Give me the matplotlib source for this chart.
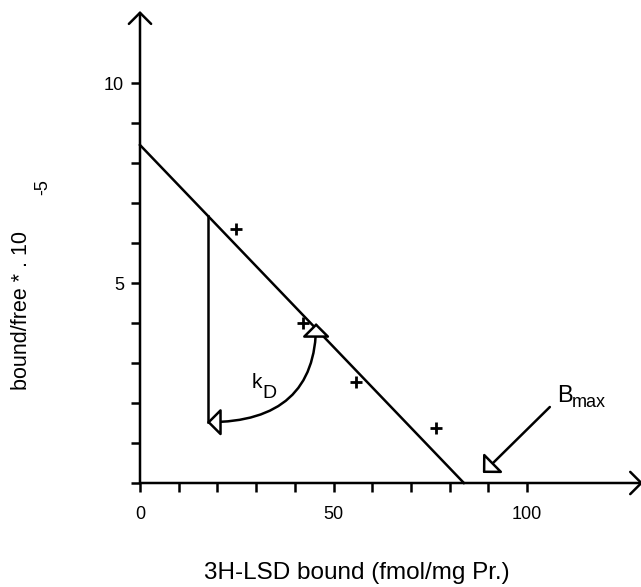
import matplotlib
matplotlib.use("Agg")
import matplotlib.pyplot as plt
from matplotlib.patches import ArrowStyle

plt.rcParams['font.family'] = ['Liberation Sans', 'DejaVu Sans']

# Scatchard data
bound = [24.9, 42.2, 55.7, 76.4]          # 3H-LSD bound (fmol/mg Pr.)
ratio = [6.35, 4.0, 2.53, 1.38]           # bound/free * 10^-5

# regression line and construction lines
fit_x = [0, 83.7]
fit_y = [8.45, 0]
drop_x = [17.6, 17.6]
drop_y = [6.67, 1.52]
kd_start = (45.5, 4.0)
kd_end = (17.3, 1.52)
bmax_tail = (105.9, 1.9)
bmax_tip = (88.6, 0.25)

x_major = [0, 50, 100]
x_minor = list(range(0, 101, 10))
y_major = [5, 10]
y_minor = list(range(0, 11))

W, H = 641, 587
fig = plt.figure(figsize=(W / 100, H / 100), dpi=100)
# axes: origin at pixel (140, 483); 3.87 px per x unit, 40 px per y unit
x_max, y_max = 129, 11.8
ax = fig.add_axes([140 / W, (H - 483) / H, x_max * 3.87 / W, y_max * 40 / H])
ax.set_xlim(0, x_max)
ax.set_ylim(0, y_max)
for s in ax.spines.values():
    s.set_visible(False)

lw = 1.8
# axes with open arrow heads
axis_style = ArrowStyle('->', head_length=8, head_width=8)
ax.annotate('', xy=(0, y_max), xytext=(0, 0), annotation_clip=False,
            arrowprops=dict(arrowstyle=axis_style, lw=lw, color='k',
                            shrinkA=0, shrinkB=0, mutation_scale=1))
ax.annotate('', xy=(x_max + 1, 0), xytext=(0, 0), annotation_clip=False,
            arrowprops=dict(arrowstyle=axis_style, lw=lw, color='k',
                            shrinkA=0, shrinkB=0, mutation_scale=1))

ax.set_xticks(x_major)
ax.set_xticks(x_minor, minor=True)
ax.set_yticks(y_major)
ax.set_yticks(y_minor, minor=True)
ax.tick_params(which='both', direction='out', length=6.5, width=lw, color='k')
ax.tick_params(axis='x', which='major', pad=10, labelsize=13)
ax.tick_params(axis='y', which='major', pad=5, labelsize=13)

ax.plot(fit_x, fit_y, color='k', lw=lw, clip_on=False)
ax.plot(drop_x, drop_y, color='k', lw=lw, clip_on=False)
ax.plot(bound, ratio, linestyle='none', marker='+', ms=9, mew=2,
        color='k', clip_on=False)

head_style = ArrowStyle('<|-|>', head_length=8.5, head_width=8.5)
ax.annotate('', xy=kd_end, xytext=kd_start, annotation_clip=False,
            arrowprops=dict(arrowstyle=head_style, lw=lw, ec='k', fc='white',
                            shrinkA=0, shrinkB=0, mutation_scale=1,
                            connectionstyle='angle3,angleA=90,angleB=0'))
ax.annotate('', xy=bmax_tip, xytext=bmax_tail, annotation_clip=False,
            arrowprops=dict(arrowstyle=ArrowStyle('-|>', head_length=8.5, head_width=8.5),
                            lw=lw, ec='k', fc='white', shrinkA=0, shrinkB=0,
                            mutation_scale=1))

# labels with hand-placed subscripts
ax.text(28.9, 2.375, 'k', fontsize=15, ha='left', va='baseline')
ax.annotate('D', xy=(28.9, 2.375), xytext=(7.9, -7.2), textcoords='offset points',
            fontsize=14, ha='left', va='baseline')
ax.text(107.8, 2.03, 'B', fontsize=17, ha='left', va='baseline')
ax.annotate('max', xy=(107.8, 2.03), xytext=(10.5, -3.6), textcoords='offset points',
            fontsize=13, ha='left', va='baseline')

fig.text(357 / W, 1 - 573 / H, '3H-LSD bound (fmol/mg Pr.)', fontsize=17.5,
         ha='center', va='center')
fig.text(22 / W, 1 - 310 / H, 'bound/free * . 10', fontsize=15.5, rotation=90,
         ha='center', va='center')
fig.text(43 / W, 1 - 187 / H, '-5', fontsize=13, rotation=90,
         ha='center', va='center')

fig.savefig('out.png', dpi=100)
plt.close(fig)
